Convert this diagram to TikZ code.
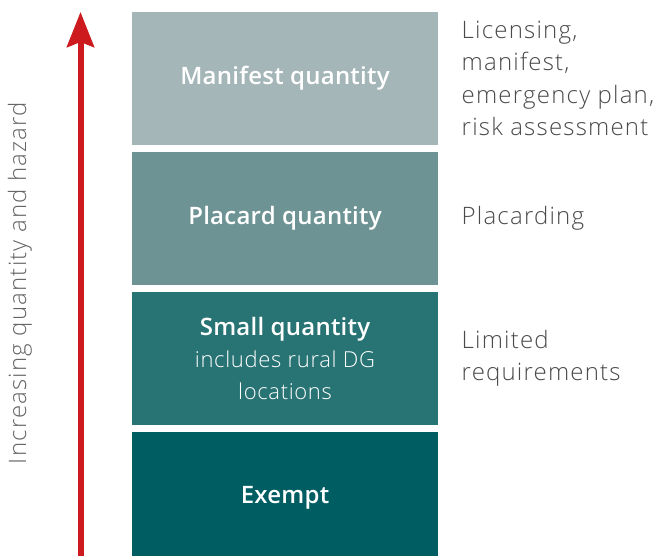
\documentclass[tikz,border=0pt]{standalone}
\usepackage{fontspec}
\setmainfont{Open Sans}[UprightFont={* Light},BoldFont={* Semibold}]
\usepackage{tikz}
\usetikzlibrary{positioning, arrows.meta}

\definecolor{manifestcol}{HTML}{A5B6B8}
\definecolor{placardcol}{HTML}{6E9394}
\definecolor{smallcol}{HTML}{287373}
\definecolor{exemptcol}{HTML}{005E63}
\definecolor{hazardred}{HTML}{CC1A1E}
\definecolor{notegrey}{HTML}{4A4A4A}

\newcommand{\levelhead}[1]{{\fontsize{24}{32}\selectfont\bfseries\addfontfeature{LetterSpace=1}#1}}

\begin{document}
\begin{tikzpicture}[x=1pt, y=-1pt,
    level/.style = {minimum width=306pt, minimum height=133pt, inner sep=0pt,
        text=white, align=center,
        font=\fontsize{22}{32}\selectfont\addfontfeature{LetterSpace=3}},
    note/.style = {anchor=west, align=left, text=notegrey,
        font=\fontsize{24}{32.5}\selectfont\addfontfeature{LetterSpace=5}}]
      \useasboundingbox (0,0) rectangle (669,556);

      \node[level, fill=manifestcol] (manifest) at (285,78.5) {\levelhead{Manifest quantity}};
      \node[level, fill=placardcol, below=6.5pt of manifest] (placard) {\levelhead{Placard quantity}};
      \node[level, fill=smallcol, below=6.5pt of placard] (small)
          {\levelhead{Small quantity}\\includes rural DG\\locations};
      \node[level, fill=exemptcol, below=6.5pt of small] (exempt) {\levelhead{Exempt}};

      \node[note, right=20pt of manifest] {Licensing,\\manifest,\\emergency plan,\\risk assessment};
      \node[note, right=20pt of placard] {Placarding};
      \node[note, right=20pt of small] {Limited\\requirements};

      \coordinate (low) at (80.5,556);
      \coordinate (high) at (80.5,12);
      \draw[hazardred, line width=6pt,
            -{Stealth[length=35pt, width=27pt, inset=5pt]}] (low) -- (high);

      \node[rotate=90, text=notegrey!85,
            font=\fontsize{24}{27}\selectfont\addfontfeature{LetterSpace=5}] (axis) at (20,283)
          {Increasing quantity and hazard};
    \end{tikzpicture}
\end{document}
